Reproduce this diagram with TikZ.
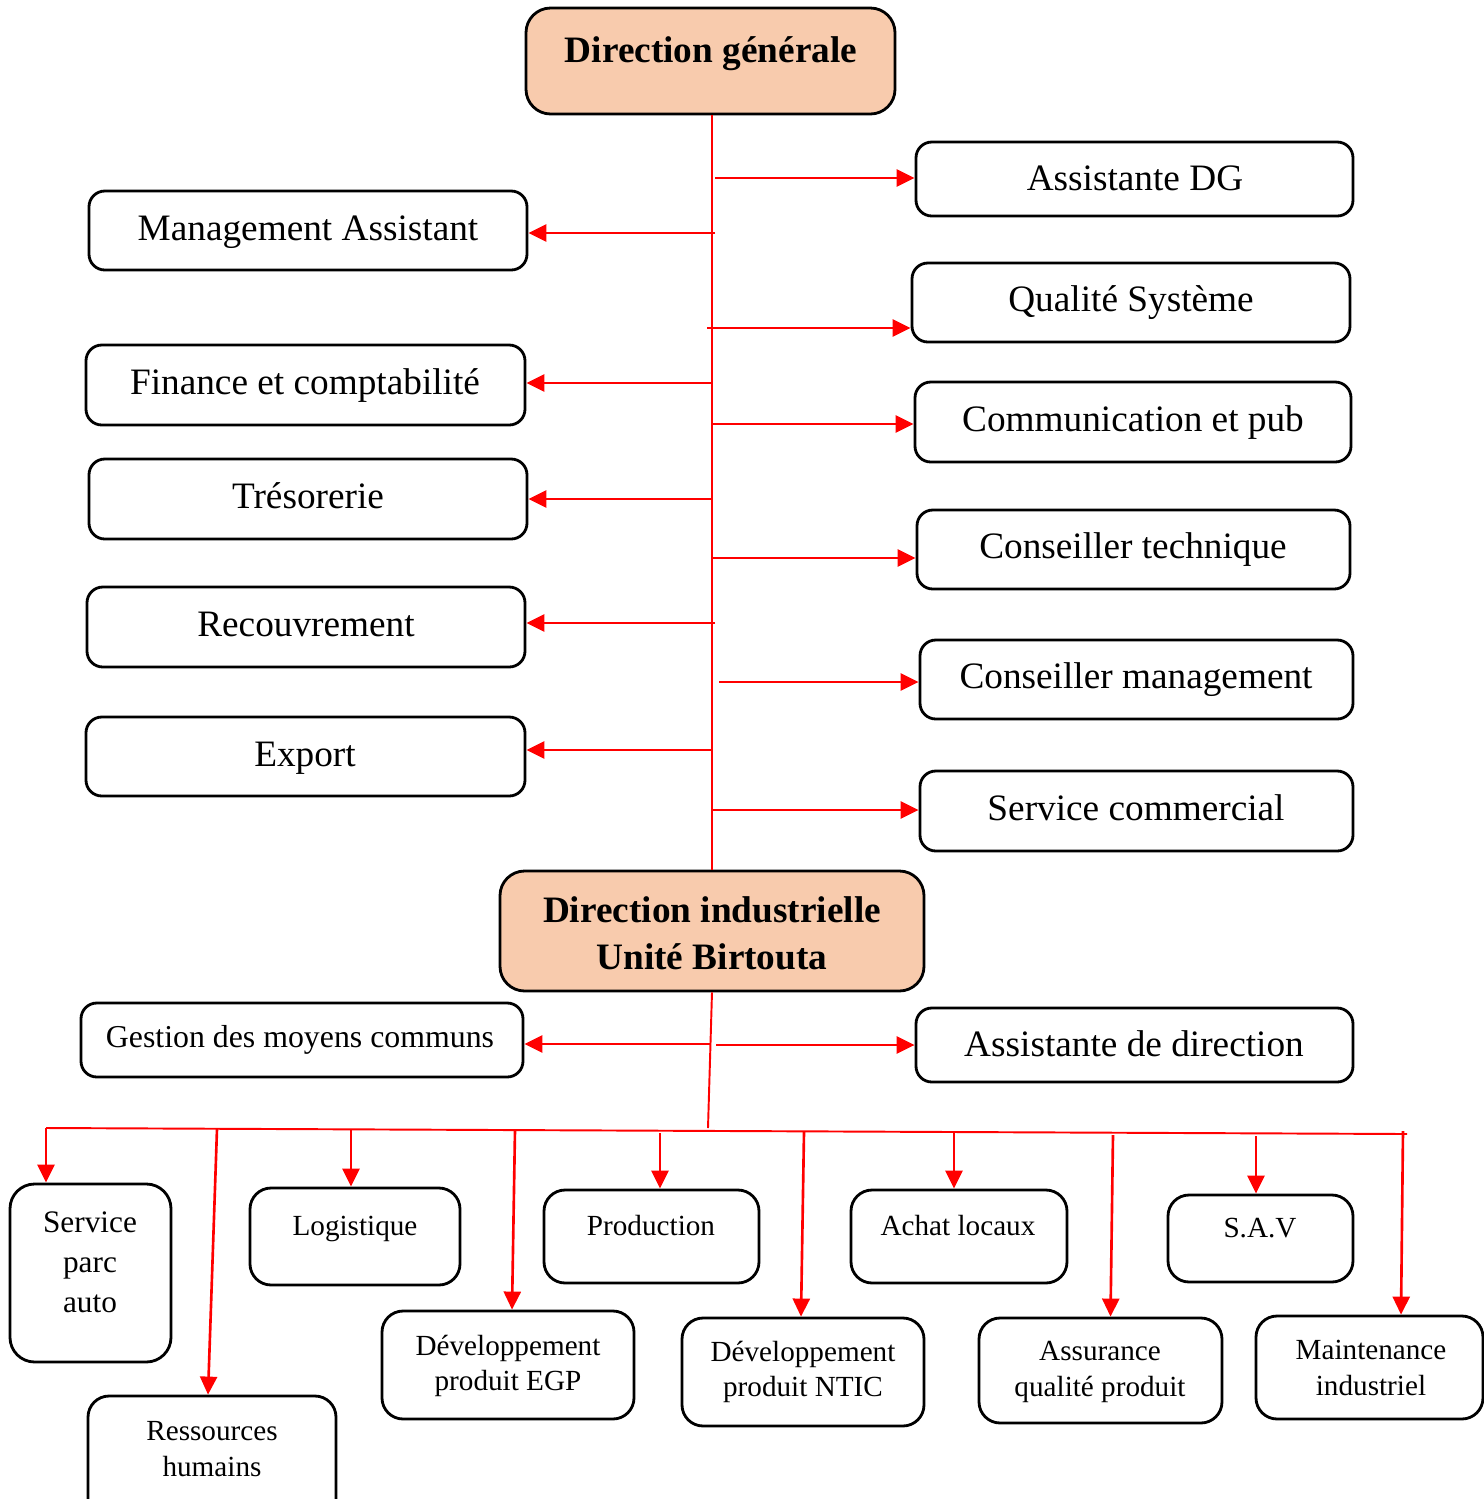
\documentclass[tikz,border=0pt]{standalone}
\usepackage{fontspec}
\setmainfont{Liberation Serif}
\usetikzlibrary{arrows.meta,fit}
\definecolor{peach}{HTML}{F8CBAD}
\begin{document}
\begin{tikzpicture}[x=0.01cm,y=-0.01cm,
  box/.style={draw=black, line width=0.8pt, rounded corners=4.5pt, inner sep=0pt},
  head/.style={box, fill=peach, rounded corners=7pt},
  bbox/.style={box, rounded corners=6pt},
  maintxt/.style={font=\fontsize{10.6}{13}\selectfont, anchor=base, inner sep=0pt},
  boldtxt/.style={font=\fontsize{10.6}{13.4}\selectfont\bfseries, align=center, inner sep=0pt},
  midtxt/.style={font=\fontsize{9.05}{11}\selectfont, anchor=base, inner sep=0pt},
  smalltxt/.style={font=\fontsize{8.3}{10.2}\selectfont, align=center, inner sep=0pt},
  arr/.style={red, line width=0.75pt, -{Triangle[length=0.18cm,width=0.17cm]}},
  trunk/.style={red, line width=0.55pt}]
\useasboundingbox (0,0) rectangle (1484,1499);

% boxes
\node[head, fit={(526,8)(895,114)}] (dg) {};
\node[box, fit={(916,142)(1353,216)}] (adg) {};
\node[box, fit={(89,191)(527,270)}] (ma) {};
\node[box, fit={(912,263)(1350,342)}] (qs) {};
\node[box, fit={(86,345)(525,425)}] (fc) {};
\node[box, fit={(915,382)(1351,462)}] (cp) {};
\node[box, fit={(89,459)(527,539)}] (tr) {};
\node[box, fit={(917,510)(1350,589)}] (ct) {};
\node[box, fit={(87,587)(525,667)}] (rc) {};
\node[box, fit={(920,640)(1353,719)}] (cm) {};
\node[box, fit={(86,717)(525,796)}] (ex) {};
\node[box, fit={(920,771)(1353,851)}] (sc) {};
\node[head, fit={(500,871)(924,991)}] (di) {};
\node[box, fit={(81,1003)(523,1077)}] (gm) {};
\node[box, fit={(916,1008)(1353,1082)}] (ad) {};
\node[bbox, rounded corners=7pt, fit={(10,1184)(171,1362)}] (sp) {};
\node[bbox, fit={(250,1188)(460,1285)}] (lg) {};
\node[bbox, fit={(544,1190)(759,1283)}] (pr) {};
\node[bbox, fit={(851,1190)(1067,1283)}] (al) {};
\node[bbox, fit={(1168,1195)(1353,1282)}] (sav) {};
\node[bbox, fit={(88,1396)(336,1520)}] (rh) {};
\node[bbox, fit={(382,1311)(634,1419)}] (egp) {};
\node[bbox, fit={(682,1318)(924,1426)}] (ntic) {};
\node[bbox, fit={(979,1318)(1222,1423)}] (aq) {};
\node[bbox, fit={(1256,1316)(1483,1419)}] (mi) {};

% texts
\node[boldtxt, anchor=base] (tdg) at (711,62) {Direction générale};
\node[maintxt] (tadg) at (1135,190) {Assistante DG};
\node[maintxt] (tma) at (308,240) {Management Assistant};
\node[maintxt] (tqs) at (1131,311) {Qualité Système};
\node[maintxt] (tfc) at (305,394) {Finance et comptabilité};
\node[maintxt] (tcp) at (1133,431) {Communication et pub};
\node[maintxt] (ttr) at (308,508) {Trésorerie};
\node[maintxt] (tct) at (1133,558) {Conseiller technique};
\node[maintxt] (trc) at (306,636) {Recouvrement};
\node[maintxt] (tcm) at (1136,688) {Conseiller management};
\node[maintxt] (tex) at (305,766) {Export};
\node[maintxt] (tsc) at (1136,820) {Service commercial};
\node[boldtxt] (tdi) at (712,933) {Direction industrielle\\Unité Birtouta};
\node[midtxt] (tgm) at (300,1047) {Gestion des moyens communs};
\node[maintxt] (tad) at (1134,1056) {Assistante de direction};
\node[smalltxt, font=\fontsize{8.9}{11.4}\selectfont] (tsp) at (90,1262) {Service\\parc\\auto};
\node[smalltxt, anchor=base] (tlg) at (355,1235) {Logistique};
\node[smalltxt, anchor=base] (tpr) at (651,1235) {Production};
\node[smalltxt, anchor=base] (tal) at (958,1235) {Achat locaux};
\node[smalltxt, anchor=base] (tsav) at (1260,1237) {S.A.V};
\node[smalltxt] (trh) at (212,1449) {Ressources\\humains};
\node[smalltxt] (tegp) at (508,1366) {Développement\\produit EGP};
\node[smalltxt] (tntic) at (803,1372) {Développement\\produit NTIC};
\node[smalltxt] (taq) at (1100,1372) {Assurance\\qualité produit};
\node[smalltxt] (tmi) at (1371,1368) {Maintenance\\industriel};

% trunk
\coordinate (tk) at (712,0);
\draw[trunk] (dg.south -| tk) -- (di.north -| tk);
\coordinate (t1) at (715,178);  \draw[arr] (t1) -- (t1 -| adg.west);
\coordinate (t2) at (715,233);  \draw[arr] (t2) -- (t2 -| ma.east);
\coordinate (t3) at (707,328);  \draw[arr] (t3) -- (t3 -| qs.west);
\coordinate (t4) at (712,383);  \draw[arr] (t4) -- (t4 -| fc.east);
\coordinate (t5) at (712,424);  \draw[arr] (t5) -- (t5 -| cp.west);
\coordinate (t6) at (712,499);  \draw[arr] (t6) -- (t6 -| tr.east);
\coordinate (t7) at (712,558);  \draw[arr] (t7) -- (t7 -| ct.west);
\coordinate (t8) at (715,623);  \draw[arr] (t8) -- (t8 -| rc.east);
\coordinate (t9) at (719,682);  \draw[arr] (t9) -- (t9 -| cm.west);
\coordinate (t10) at (713,750); \draw[arr] (t10) -- (t10 -| ex.east);
\coordinate (t11) at (712,810); \draw[arr] (t11) -- (t11 -| sc.west);

% lower part
\coordinate (bj) at (708,1128);
\draw[trunk] (di.south) -- (bj);
\coordinate (u1) at (710,1044); \draw[arr] (u1) -- (u1 -| gm.east);
\coordinate (u2) at (716,1045); \draw[arr] (u2) -- (u2 -| ad.west);
\coordinate (bl) at (46,1128);
\coordinate (br) at (1407,1134);
\draw[trunk] (bl) -- (br);

\draw[arr] (bl) -- (bl |- sp.north);
\coordinate (d2) at (217,1129); \draw[arr] (d2) -- ([xshift=-0.04cm]rh.north);
\coordinate (d3) at (351,1130); \draw[arr] (d3) -- (d3 |- lg.north);
\coordinate (d4) at (515,1130); \draw[arr] (d4) -- ([xshift=0.04cm]egp.north);
\coordinate (d5) at (660,1133); \draw[arr] (d5) -- (d5 |- pr.north);
\coordinate (d6) at (804,1132); \draw[arr] (d6) -- ([xshift=-0.02cm]ntic.north);
\coordinate (d7) at (954,1133); \draw[arr] (d7) -- (d7 |- al.north);
\coordinate (d8) at (1113,1135); \draw[arr] (d8) -- ([xshift=0.10cm]aq.north);
\coordinate (d9) at (1256,1136); \draw[arr] (d9) -- (d9 |- sav.north);
\coordinate (d10) at (1403,1131); \draw[arr] (d10) -- ([xshift=0.315cm]mi.north);
\end{tikzpicture}
\end{document}
